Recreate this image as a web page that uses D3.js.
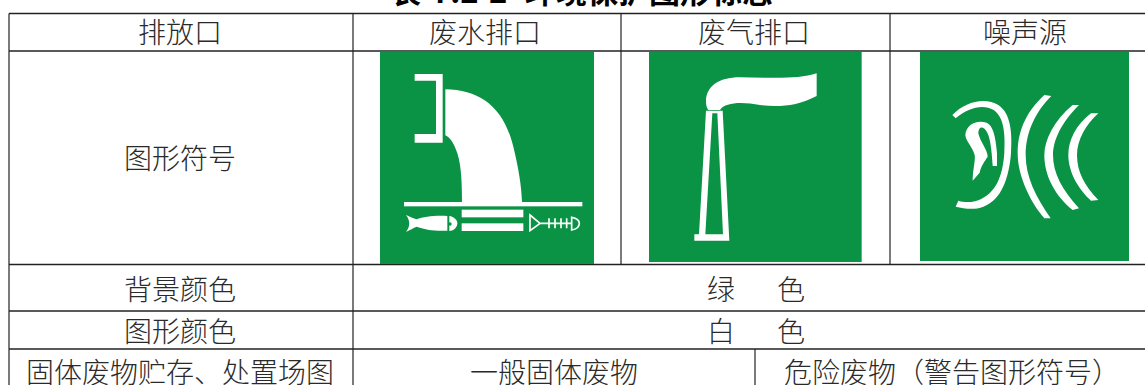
<!DOCTYPE html>
<html>
<head>
<meta charset="utf-8">
<script src="https://cdn.jsdelivr.net/npm/d3@7"></script>
<style>
html, body { margin: 0; padding: 0; background: #fff; overflow: hidden; }
text { font-family: "Noto Sans CJK SC", sans-serif; font-weight: 300; fill: #2a2a2a; }
</style>
</head>
<body>
<svg id="chart" width="1145" height="385"></svg>
<script>
// table content
var titleParts = ["表", "7.2-", "2", "环境保护图形标志"];
var headerLabels = ["排放口", "废水排口", "废气排口", "噪声源"];
var symbolRowLabel = "图形符号";
var colorRowLabels = ["背景颜色", "图形颜色"];
var colorRowValues = ["绿\u2003\u2002色", "白\u2003\u2002色"];
var storageLabel = "固体废物贮存、处置场图";
var storageValues = ["一般固体废物", "危险废物（警告图形符号）"];

var svg = d3.select("#chart");

// column and row edges
var colNames = ["left", "water", "gas", "noise", "right"];
var rowNames = ["header", "symbol", "background", "graphic", "storage", "end"];
var x = d3.scaleOrdinal().domain(colNames).range([9, 353, 621, 890, 1145]);
var y = d3.scaleOrdinal().domain(rowNames).range([13.5, 51, 264.5, 311, 349, 400]);
var splitX = 755;
var fontSize = "28px";

// title sits cut off at the top edge, like the scan
var titleX = [390, 432, 489, 525];
svg.selectAll(".title")
    .data(titleParts)
  .enter().append("text")
    .attr("class", "title")
    .attr("x", function(d, i) { return titleX[i]; })
    .attr("y", 3)
    .style("font-size", "31px")
    .style("font-weight", "bold")
    .style("fill", "#000")
    .text(function(d) { return d; });

// horizontal rules
var hLines = rowNames.slice(0, 5);
svg.selectAll(".hline")
    .data(hLines)
  .enter().append("line")
    .attr("class", "hline")
    .attr("x1", x("left"))
    .attr("x2", x("right"))
    .attr("y1", function(d) { return y(d); })
    .attr("y2", function(d) { return y(d); })
    .attr("stroke", "#222")
    .attr("stroke-width", 1.5);

// vertical rules, some only span the top two rows
var vLines = [
    {x: x("left"), y1: y("header"), y2: y("end")},
    {x: x("water"), y1: y("header"), y2: y("end")},
    {x: x("gas"), y1: y("header"), y2: y("background")},
    {x: x("noise"), y1: y("header"), y2: y("background")},
    {x: splitX, y1: y("storage"), y2: y("end")}
];
svg.selectAll(".vline")
    .data(vLines)
  .enter().append("line")
    .attr("class", "vline")
    .attr("x1", function(d) { return d.x; })
    .attr("x2", function(d) { return d.x; })
    .attr("y1", function(d) { return d.y1; })
    .attr("y2", function(d) { return d.y2; })
    .attr("stroke", "#222")
    .attr("stroke-width", 1.2);

function cellText(label, cx, cy) {
    svg.append("text")
        .attr("x", cx)
        .attr("y", cy)
        .attr("text-anchor", "middle")
        .attr("dominant-baseline", "central")
        .style("font-size", fontSize)
        .text(label);
}

var headerCenters = [180, 485, 754, 1025];
headerLabels.forEach(function(label, i) {
    cellText(label, headerCenters[i], 31);
});
cellText(symbolRowLabel, 180, 157);
cellText(colorRowLabels[0], 180, 288);
cellText(colorRowLabels[1], 180, 330);
cellText(colorRowValues[0], 756, 288);
cellText(colorRowValues[1], 756, 330);
cellText(storageLabel, 180, 371);
cellText(storageValues[0], 554, 371);
cellText(storageValues[1], 952, 371);

// icons, paths are in 3x units measured from the crop origin
var green = "#0a9345";

function icon(originX, originY, bx0, by0, bx1, by1) {
    var g = svg.append("g")
        .attr("transform", "translate(" + originX + "," + originY + ") scale(" + (1 / 3) + ")");
    g.append("rect")
        .attr("x", bx0).attr("y", by0)
        .attr("width", bx1 - bx0).attr("height", by1 - by0)
        .attr("fill", green);
    return g;
}

// waste water outlet
var water = icon(370, 0, 30, 155, 672, 792);
water.append("path").attr("fill", "#fff")
    .attr("d", "M134,222 H218 V428 H134 V402 H198 V242 H134 Z");
water.append("path").attr("fill", "#fff")
    .attr("d", "M226,268 C330,270 400,320 430,440 C445,500 455,560 456,606 H276 C276,560 275,500 262,460 C252,430 240,412 226,406 Z");
water.append("rect").attr("fill", "#fff").attr("x", 102).attr("y", 606).attr("width", 535).attr("height", 13);
water.append("rect").attr("fill", "#fff").attr("x", 275).attr("y", 629).attr("width", 185).attr("height", 23);
water.append("rect").attr("fill", "#fff").attr("x", 275).attr("y", 670).attr("width", 185).attr("height", 23);
water.append("path").attr("fill", "#fff")
    .attr("d", "M108,645 C120,650 130,655 140,658 C160,650 195,646 232,648 L232,692 C195,694 160,688 140,680 C130,684 120,690 108,696 C120,680 122,664 108,645 Z");
water.append("path").attr("fill", "#fff")
    .attr("d", "M238,648 C252,650 262,660 262,670 C262,682 252,692 238,693 Z");
water.append("circle").attr("fill", green).attr("cx", 240).attr("cy", 672).attr("r", 5);
water.append("path").attr("fill", "none").attr("stroke", "#fff").attr("stroke-width", 5)
    .attr("d", "M480,645 L510,670 L480,692 Z M510,670 H605 M537,655 V685 M555,655 V685 M573,655 V685 M590,655 V685 M605,652 C622,655 628,662 628,670 C628,680 620,688 605,690 Z");

// waste gas outlet
var gas = icon(640, 0, 27, 155, 665, 786);
gas.append("path").attr("fill", "#fff")
    .attr("d", "M198,305 C198,260 235,232 300,232 C380,232 470,240 530,220 L530,288 C470,320 410,322 360,315 C310,305 255,305 240,330 L205,330 C200,322 198,315 198,305 Z");
gas.append("path").attr("fill", "#fff").attr("fill-rule", "evenodd")
    .attr("d", "M198,332 L248,332 L268,722 L163,722 L163,703 L177,703 Z M217,340 L232,340 L249,703 L196,703 Z");

// noise source
var noise = icon(905, 40, 45, 36, 672, 663);
noise.append("path").attr("fill", "#fff")
    .attr("d", "M142,225 C180,185 240,170 280,195 C318,220 322,280 318,340 C312,415 288,482 235,500 C210,510 180,507 152,500 L160,482 C185,490 210,486 230,476 C272,456 293,410 298,340 C301,285 298,232 266,210 C235,192 190,202 152,235 Z");
noise.append("path").attr("fill", "#fff")
    .attr("d", "M181,285 C183,253 215,238 245,248 C264,256 272,290 276,340 L276,378 L263,378 C260,330 256,285 240,268 C230,258 220,262 220,280 C225,305 248,330 248,350 C238,365 228,378 224,398 L203,422 C203,390 212,360 209,345 C202,320 183,305 181,285 Z");
noise.append("path").attr("fill", "#fff")
    .attr("d", "M418,165 C358,220 338,280 338,340 C338,410 378,490 418,535 L437,535 C392,470 362,410 362,345 C362,270 397,210 439,168 Z");
noise.append("path").attr("fill", "#fff")
    .attr("d", "M503,195 C448,240 418,300 418,345 C418,410 453,470 503,510 L522,505 C472,450 444,400 444,345 C444,290 482,235 522,195 Z");
noise.append("path").attr("fill", "#fff")
    .attr("d", "M558,220 C513,255 490,300 490,345 C490,400 523,450 558,482 L580,480 C537,435 516,395 516,345 C516,300 542,255 580,220 Z");
</script>
</body>
</html>
